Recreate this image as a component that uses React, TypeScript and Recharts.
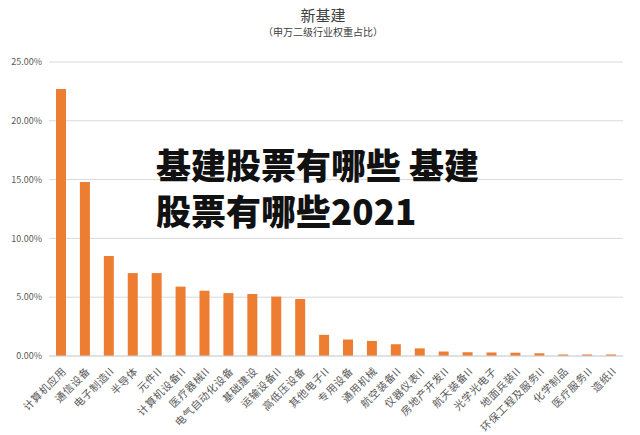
import { BarChart, Bar, XAxis, YAxis, CartesianGrid } from "recharts";

const industries = [
  "计算机应用",
  "通信设备",
  "电子制造II",
  "半导体",
  "元件II",
  "计算机设备II",
  "医疗器械II",
  "电气自动化设备",
  "基础建设",
  "运输设备II",
  "高低压设备",
  "其他电子II",
  "专用设备",
  "通用机械",
  "航空装备II",
  "仪器仪表II",
  "房地产开发II",
  "航天装备II",
  "光学光电子",
  "地面兵装II",
  "环保工程及服务II",
  "化学制品",
  "医疗服务II",
  "造纸II",
];

const weights = [
  22.7, 14.8, 8.5, 7.05, 7.05, 5.9, 5.55, 5.35, 5.28, 5.05, 4.85, 1.8, 1.4,
  1.28, 1.0, 0.65, 0.38, 0.32, 0.3, 0.28, 0.23, 0.13, 0.13, 0.13,
];

const yTicks = [0, 5, 10, 15, 20, 25];

const chartData = industries.map((name, i) => ({ name, weight: weights[i] }));

const font = '"Noto Sans CJK SC", "Noto Sans", sans-serif';

function AngledTick({ x, y, payload }: any) {
  return (
    <g transform={`translate(${x + 4},${y + 6})`}>
      <text
        transform="rotate(-45)"
        textAnchor="end"
        dominantBaseline="middle"
        fontSize={10.5}
        letterSpacing={0.6}
        fill="#595959"
        fontFamily={font}
      >
        {payload.value}
      </text>
    </g>
  );
}

export default function App() {
  return (
    <div
      style={{
        position: "absolute",
        left: 0,
        top: 0,
        width: 640,
        height: 435,
        background: "#fff",
        fontFamily: font,
      }}
    >
      <div
        style={{
          position: "absolute",
          left: 0,
          width: 646,
          top: 5,
          textAlign: "center",
          fontSize: 15,
          color: "#404040",
          lineHeight: "20px",
        }}
      >
        新基建
      </div>
      <div
        style={{
          position: "absolute",
          left: 0,
          width: 646,
          top: 24,
          textAlign: "center",
          fontSize: 10,
          color: "#404040",
          lineHeight: "16px",
        }}
      >
        （申万二级行业权重占比）
      </div>
      <BarChart
        width={640}
        height={435}
        data={chartData}
        margin={{ top: 62, right: 17, bottom: 0, left: 0 }}
        barCategoryGap={0}
      >
        <CartesianGrid vertical={false} stroke="#d9d9d9" />
        <XAxis
          dataKey="name"
          interval={0}
          height={79}
          axisLine={{ stroke: "#d0d7e0" }}
          tickLine={false}
          tick={<AngledTick />}
        />
        <YAxis
          width={49}
          domain={[0, 25]}
          ticks={yTicks}
          axisLine={false}
          tickLine={false}
          tickSize={0}
          tickMargin={7}
          tick={{ fontSize: 9, fill: "#595959", fontFamily: font }}
          tickFormatter={(v: number) => `${v.toFixed(2)}%`}
        />
        <Bar dataKey="weight" fill="#ED7D31" barSize={10} isAnimationActive={false} />
      </BarChart>
      <div
        style={{
          position: "absolute",
          left: 156,
          top: 141,
          fontSize: 35,
          fontWeight: 900,
          color: "#111",
          lineHeight: "46px",
          whiteSpace: "nowrap",
        }}
      >
        <div>基建股票有哪些 基建</div>
        <div>股票有哪些2021</div>
      </div>
    </div>
  );
}
